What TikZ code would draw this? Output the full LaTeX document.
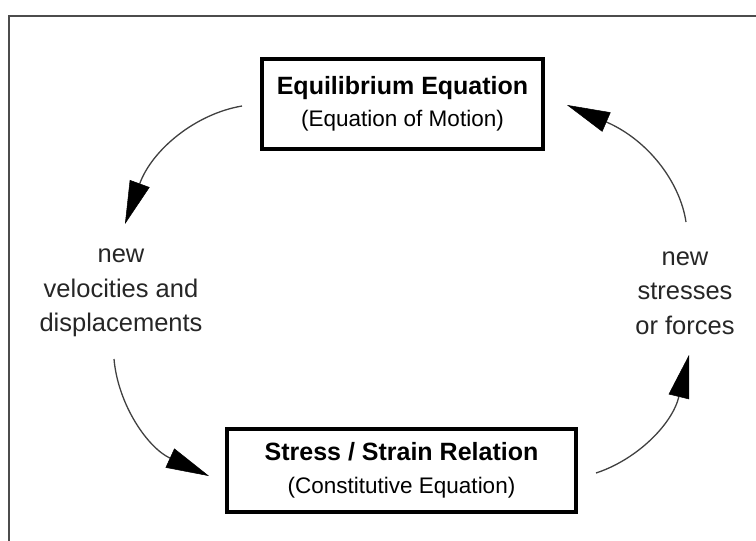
\documentclass[tikz,border=0pt]{standalone}
\usepackage{fontspec}
\setmainfont{Liberation Sans}
\usetikzlibrary{arrows.meta}
\definecolor{framegray}{gray}{0.3}
\definecolor{labelgray}{gray}{0.15}
\definecolor{arrowgray}{gray}{0.25}
\begin{document}
\begin{tikzpicture}[x=1pt,y=-1pt,
  eqbox/.style={draw=black, line width=3.5pt, align=center, inner sep=0pt, text=black,
    font=\fontsize{22.5}{32.5}\selectfont},
  sidelabel/.style={align=center, text=labelgray, font=\fontsize{25.5}{34.5}\selectfont},
  cyclearrow/.style={draw=arrowgray, line width=1.3pt,
    -{Triangle[length=43pt,width=21pt,color=black,fill=black,line width=0.5pt]}},
  frameline/.style={draw=framegray, line width=2pt}]
\useasboundingbox (0,0) rectangle (756,541);
% partial outer frame
\coordinate (fbl) at (9,541);
\coordinate (ftl) at (9,16);
\coordinate (ftr) at (756,16);
\draw[frameline] (fbl) -- (ftl) -- (ftr);
% boxes
\node[eqbox, minimum width=281pt, minimum height=90pt] (eq) at (402.5,104)
  {\rule{0pt}{4pt}{\fontsize{25}{32.5}\selectfont\bfseries Equilibrium Equation}\\
   (Equation of Motion)};
\node[eqbox, minimum width=349pt, minimum height=83pt] (ss) at (401.5,470.5)
  {\rule{0pt}{4pt}{\fontsize{25}{32.5}\selectfont\bfseries Stress / Strain Relation}\\
   (Constitutive Equation)};
% side labels
\node[sidelabel] (vel) at (121,293) {new\\velocities and\\displacements};
\node[sidelabel] (str) at (685,293) {new\\stresses\\or forces};
% arrow end points
\coordinate (a1s) at (242,106);
\coordinate (a1e) at (125,224);
\coordinate (a2s) at (686,222);
\coordinate (a2e) at (567,105);
\coordinate (a3s) at (114,359);
\coordinate (a3e) at (209,476);
\coordinate (a4s) at (596,473);
\coordinate (a4e) at (689,355);
\draw[cyclearrow] (a1s) .. controls (195,114) and (152,150) .. (a1e);
\draw[cyclearrow] (a2s) .. controls (680,182) and (648,140) .. (a2e);
\draw[cyclearrow] (a3s) .. controls (118,405) and (148,448) .. (a3e);
\draw[cyclearrow] (a4s) .. controls (636,460) and (672,425) .. (a4e);
\end{tikzpicture}
\end{document}
